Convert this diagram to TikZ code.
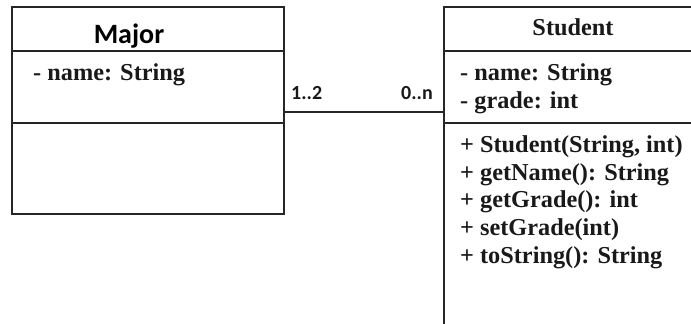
\documentclass[tikz,border=0pt]{standalone}
\usepackage{fontspec}
\setmainfont{Liberation Serif}
\newfontfamily\labelfont{Carlito}
\begin{document}
\begin{tikzpicture}[x=1pt,y=-1pt,
  boxline/.style={draw=black!85, line width=1.8pt},
  title/.style={font=\labelfont\bfseries\fontsize{28}{30}\selectfont, inner sep=0pt, anchor=base},
  serif/.style={font=\bfseries\fontsize{24.3}{26}\selectfont, inner sep=0pt, anchor=base west, text=black!90},
  serifc/.style={font=\bfseries\fontsize{24.3}{26}\selectfont, inner sep=0pt, anchor=base, text=black!90},
  mult/.style={font=\labelfont\bfseries\fontsize{20}{22}\selectfont, inner sep=0pt, anchor=base west, text=black!90}]
\useasboundingbox (0,0) rectangle (691,324);
\clip (0,0) rectangle (691,324);
% Major class
\draw[boxline] (12,7) rectangle (284,214);
\draw[boxline] (12,51) -- (284,51);
\draw[boxline] (12,123) -- (284,123);
\coordinate (majE) at (284,112);
\node[title] (major) at (129,43) {Major};
\node[serif] (majattr) at (33,80) {- name: String};
% Student class
\draw[boxline] (444,340) -- (444,7) -- (710,7);
\draw[boxline] (444,51) -- (710,51);
\draw[boxline] (444,123) -- (710,123);
\coordinate (stuW) at (444,112);
\node[serifc] (student) at (573,35) {Student};
\node[serif] (sa1) at (460,80) {- name: String};
\node[serif] (sa2) at (460,108) {- grade: int};
\node[serif] (sm1) at (460,152) {+ Student(String, int)};
\node[serif] (sm2) at (460,180) {+ getName(): String};
\node[serif] (sm3) at (460,207) {+ getGrade(): int};
\node[serif] (sm4) at (460,235) {+ setGrade(int)};
\node[serif] (sm5) at (460,263) {+ toString(): String};
% association
\draw[boxline] (majE) -- (stuW);
\node[mult] (m1) at (291,99) {1..2};
\node[mult] (m2) at (401,99) {0..n};
\end{tikzpicture}
\end{document}
